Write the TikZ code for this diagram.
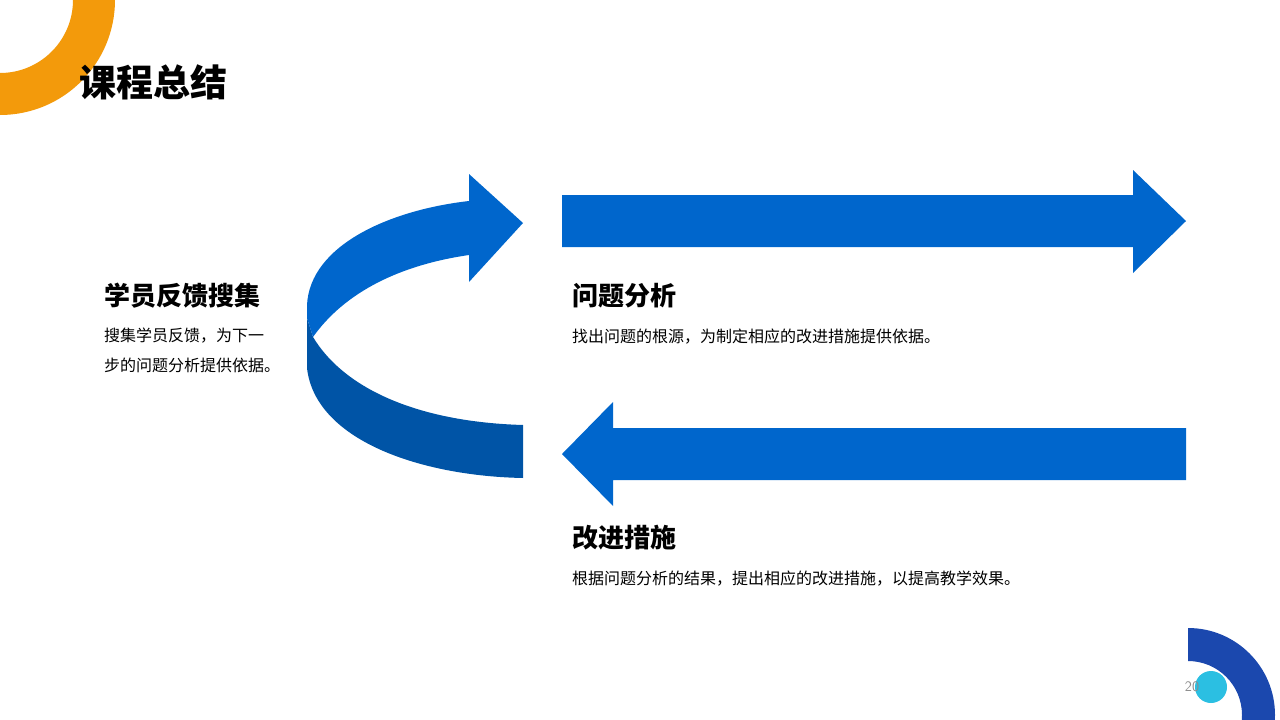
\documentclass[tikz,border=0pt]{standalone}
\usepackage{fontspec}
\newfontfamily\cjk{Noto Sans CJK SC}
\usepackage{xcolor}
\definecolor{arrowblue}{HTML}{0066CC}
\definecolor{arrowdark}{HTML}{0054A6}
\definecolor{ringorange}{HTML}{F39A0B}
\definecolor{ringblue}{HTML}{1B48AE}
\definecolor{dotcyan}{HTML}{2BBFE2}
\definecolor{pagegray}{HTML}{8C8C8C}
\begin{document}
\begin{tikzpicture}[x=1pt,y=-1pt,
  head/.style={anchor=west,inner sep=0pt,font=\cjk\bfseries\fontsize{26}{30}\selectfont},
  body/.style={anchor=west,inner sep=0pt,font=\cjk\fontsize{16}{30.5}\selectfont,align=left}]
\useasboundingbox (0,0) rectangle (1280,720);
% corner rings
\begin{scope}
\clip (0,0) rectangle (1280,720);
\fill[ringorange,even odd rule] (0,0) circle (115) (0,0) circle (73);
\end{scope}
\begin{scope}
\clip (1188,600) rectangle (1280,720);
\fill[ringblue,even odd rule] (1188,715) circle (87) (1188,715) circle (54);
\end{scope}
\fill[dotcyan] (1211,687) circle (16);
\node[inner sep=0pt,text=pagegray,font=\sffamily\fontsize{14.5}{14.5}\selectfont] (page) at (1192,687) {20};
% title
\node[anchor=west,inner sep=0pt,font=\cjk\bfseries\fontsize{37}{40}\selectfont] (title) at (79,82) {课程总结};
% curved arrow
\fill[arrowdark] (307,318) -- (307,368) .. controls (315,440) and (420,476) .. (523,478) -- (523,425) .. controls (420,422) and (345,390) .. (313,337) -- cycle;
\fill[arrowblue] (469,201) .. controls (390,210) and (310,245) .. (307,305) -- (307,318) -- (313,337) .. controls (345,292) and (400,265) .. (469,255) -- (469,282) -- (523,223) -- (469,174) -- cycle;
% straight arrows
\fill[arrowblue] (562,195) -- (1133,195) -- (1133,170) -- (1186,221) -- (1133,273) -- (1133,247) -- (562,247) -- cycle;
\fill[arrowblue] (1186,428) -- (613,428) -- (613,402) -- (562,454) -- (613,506) -- (613,480) -- (1186,480) -- cycle;
% texts
\node[head] (collect) at (104,296) {学员反馈搜集};
\node[body,anchor=north west] (collecttxt) at (104,327.5) {搜集学员反馈，为下一\\步的问题分析提供依据。};
\node[head] (analyse) at (572,296) {问题分析};
\node[body] (analysetxt) at (572,337) {找出问题的根源，为制定相应的改进措施提供依据。};
\node[head] (improve) at (572,538) {改进措施};
\node[body] (improvetxt) at (572,579) {根据问题分析的结果，提出相应的改进措施，以提高教学效果。};
\end{tikzpicture}
\end{document}
